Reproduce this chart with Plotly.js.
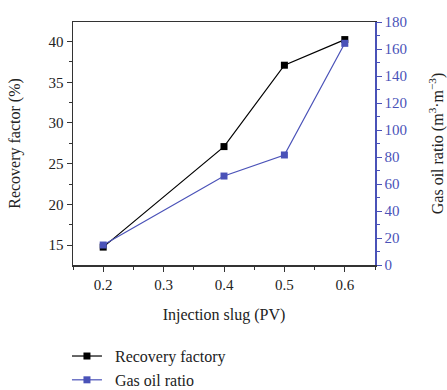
<!DOCTYPE html>
<html><head><meta charset="utf-8">
<script src="https://cdn.plot.ly/plotly-3.0.1.min.js"></script>
<style>html,body{margin:0;padding:0;background:#fff}#chart{width:447px;height:390px}</style>
</head><body><div id="chart"></div>
<script>
const injectionSlug = [0.2, 0.4, 0.5, 0.6];
const recoveryFactor = [14.75, 27.1, 37.1, 40.25];
const gasOilRatio = [14.8, 65.9, 81.5, 164.2];
const xTicks = [0.2, 0.3, 0.4, 0.5, 0.6];
const xTickLabels = ['0.2', '0.3', '0.4', '0.5', '0.6'];
const leftTicks = [15, 20, 25, 30, 35, 40];
const rightTicks = [0, 20, 40, 60, 80, 100, 120, 140, 160, 180];
const blue = '#4a52b8';
const font = "'Liberation Serif', 'Times New Roman', serif";
const txt = '#222';

const traces = [
  {x: injectionSlug, y: recoveryFactor, name: '\u00a0\u00a0Recovery factory', mode: 'lines+markers', legendgroup: 'a',
   line: {color: '#000', width: 1.2}, marker: {symbol: 'square', size: 7, color: '#000'}, yaxis: 'y'},
  {x: injectionSlug, y: gasOilRatio, name: '\u00a0\u00a0Gas oil ratio', mode: 'lines+markers', legendgroup: 'b',
   line: {color: blue, width: 1.2}, marker: {symbol: 'square', size: 7, color: blue}, yaxis: 'y2'}
];
const layout = {
  width: 447, height: 390,
  margin: {l: 73, r: 72, t: 22, b: 125, autoexpand: false},
  paper_bgcolor: '#fff', plot_bgcolor: '#fff',
  font: {family: font, size: 15, color: txt},
  showlegend: true,
  legend: {x: -0.02, y: -0.305, xanchor: 'left', yanchor: 'top', orientation: 'v', maxheight: 300,
           font: {family: font, size: 16, color: txt}, tracegroupgap: 0, itemwidth: 30},
  xaxis: {range: [0.15, 0.65], tickvals: xTicks, ticktext: xTickLabels,
          showgrid: false, zeroline: false, showline: true, linecolor: '#333', linewidth: 1.5, mirror: true,
          ticks: 'outside', ticklen: 5, tickcolor: '#333', tickfont: {family: font, size: 15, color: txt},
          minor: {dtick: 0.05, tick0: 0.15, ticks: 'outside', ticklen: 3, tickcolor: '#333', showgrid: false},
          title: {text: 'Injection slug (PV)', font: {family: font, size: 16, color: txt}, standoff: 17}},
  yaxis: {range: [12.55, 42.41], tickvals: leftTicks,
          showgrid: false, zeroline: false, showline: true, linecolor: '#333', linewidth: 1.5,
          ticks: 'outside', ticklen: 5, tickcolor: '#333', tickfont: {family: font, size: 15, color: txt},
          minor: {dtick: 2.5, tick0: 0, ticks: 'outside', ticklen: 3, tickcolor: '#333', showgrid: false},
          title: {text: 'Recovery factor (%)', font: {family: font, size: 16, color: txt}, standoff: 24}},
  yaxis2: {overlaying: 'y', side: 'right', range: [0, 180], tickvals: rightTicks,
          showgrid: false, zeroline: false, showline: true, linecolor: blue, linewidth: 1.5,
          ticks: 'outside', ticklen: 5, tickcolor: blue, tickfont: {color: blue, family: font, size: 15},
          minor: {dtick: 10, tick0: 0, ticks: 'outside', ticklen: 3, tickcolor: blue, showgrid: false},
          title: {text: 'Gas oil ratio (m<sup>3</sup>·m<sup>−3</sup>)', font: {family: font, size: 16, color: txt}, standoff: 27}}
};
Plotly.newPlot('chart', traces, layout, {displayModeBar: false, staticPlot: true});
</script></body></html>
